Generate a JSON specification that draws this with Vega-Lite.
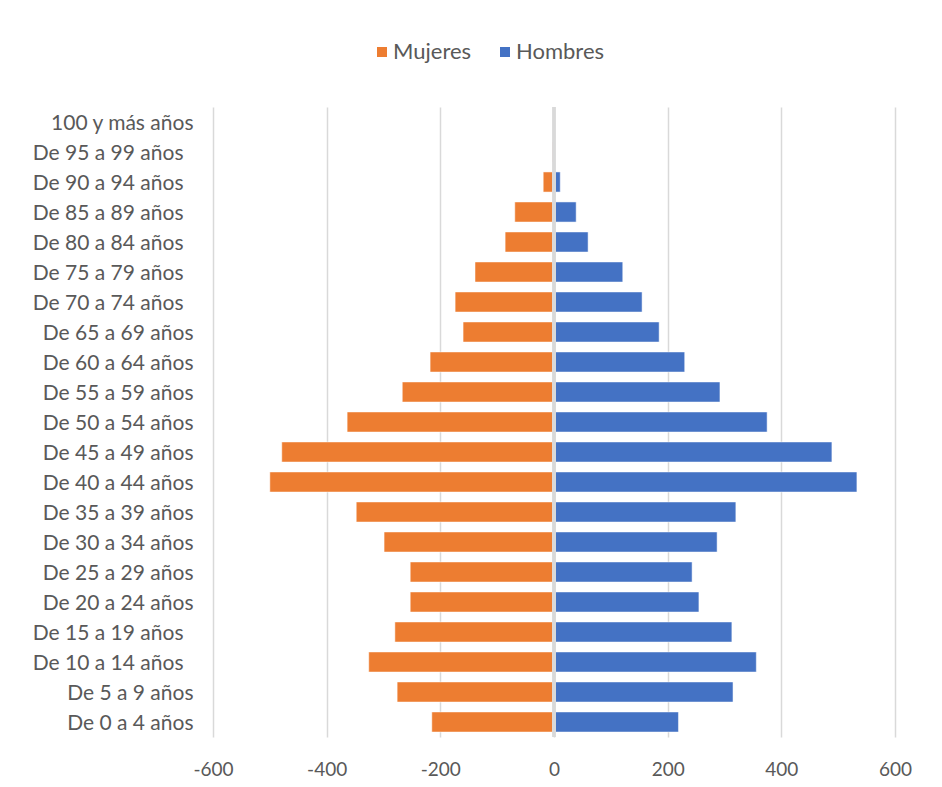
{
  "$schema": "https://vega.github.io/schema/vega-lite/v6.json",
  "width": 682,
  "height": 630,
  "padding": {"left": 0, "top": 41, "right": 47, "bottom": 0},
  "background": "white",
  "config": {
    "font": "Lato",
    "view": {"stroke": null},
    "axis": {"labelFont": "Lato", "labelColor": "#595959", "labelFontSize": 21}
  },
  "data": {
    "values": [
      {"edad": "100 y más años", "sexo": "Mujeres", "valor": 0},
      {"edad": "100 y más años", "sexo": "Hombres", "valor": 0},
      {"edad": "De 95 a 99 años", "sexo": "Mujeres", "valor": -3},
      {"edad": "De 95 a 99 años", "sexo": "Hombres", "valor": 0},
      {"edad": "De 90 a 94 años", "sexo": "Mujeres", "valor": -19},
      {"edad": "De 90 a 94 años", "sexo": "Hombres", "valor": 11},
      {"edad": "De 85 a 89 años", "sexo": "Mujeres", "valor": -69},
      {"edad": "De 85 a 89 años", "sexo": "Hombres", "valor": 39},
      {"edad": "De 80 a 84 años", "sexo": "Mujeres", "valor": -86},
      {"edad": "De 80 a 84 años", "sexo": "Hombres", "valor": 60},
      {"edad": "De 75 a 79 años", "sexo": "Mujeres", "valor": -139},
      {"edad": "De 75 a 79 años", "sexo": "Hombres", "valor": 121},
      {"edad": "De 70 a 74 años", "sexo": "Mujeres", "valor": -174},
      {"edad": "De 70 a 74 años", "sexo": "Hombres", "valor": 155},
      {"edad": "De 65 a 69 años", "sexo": "Mujeres", "valor": -160},
      {"edad": "De 65 a 69 años", "sexo": "Hombres", "valor": 185},
      {"edad": "De 60 a 64 años", "sexo": "Mujeres", "valor": -218},
      {"edad": "De 60 a 64 años", "sexo": "Hombres", "valor": 230},
      {"edad": "De 55 a 59 años", "sexo": "Mujeres", "valor": -267},
      {"edad": "De 55 a 59 años", "sexo": "Hombres", "valor": 292},
      {"edad": "De 50 a 54 años", "sexo": "Mujeres", "valor": -364},
      {"edad": "De 50 a 54 años", "sexo": "Hombres", "valor": 375},
      {"edad": "De 45 a 49 años", "sexo": "Mujeres", "valor": -479},
      {"edad": "De 45 a 49 años", "sexo": "Hombres", "valor": 489},
      {"edad": "De 40 a 44 años", "sexo": "Mujeres", "valor": -500},
      {"edad": "De 40 a 44 años", "sexo": "Hombres", "valor": 533},
      {"edad": "De 35 a 39 años", "sexo": "Mujeres", "valor": -348},
      {"edad": "De 35 a 39 años", "sexo": "Hombres", "valor": 320},
      {"edad": "De 30 a 34 años", "sexo": "Mujeres", "valor": -299},
      {"edad": "De 30 a 34 años", "sexo": "Hombres", "valor": 287},
      {"edad": "De 25 a 29 años", "sexo": "Mujeres", "valor": -253},
      {"edad": "De 25 a 29 años", "sexo": "Hombres", "valor": 243},
      {"edad": "De 20 a 24 años", "sexo": "Mujeres", "valor": -253},
      {"edad": "De 20 a 24 años", "sexo": "Hombres", "valor": 255},
      {"edad": "De 15 a 19 años", "sexo": "Mujeres", "valor": -280},
      {"edad": "De 15 a 19 años", "sexo": "Hombres", "valor": 313},
      {"edad": "De 10 a 14 años", "sexo": "Mujeres", "valor": -326},
      {"edad": "De 10 a 14 años", "sexo": "Hombres", "valor": 356},
      {"edad": "De 5 a 9 años", "sexo": "Mujeres", "valor": -276},
      {"edad": "De 5 a 9 años", "sexo": "Hombres", "valor": 315},
      {"edad": "De 0 a 4 años", "sexo": "Mujeres", "valor": -215},
      {"edad": "De 0 a 4 años", "sexo": "Hombres", "valor": 219}
    ]
  },
  "layer": [
    {
      "mark": {"type": "bar", "stroke": "white", "strokeWidth": 1, "strokeOpacity": 0.5},
      "encoding": {
        "y": {
          "field": "edad",
          "type": "nominal",
          "sort": null,
          "scale": {"paddingInner": 0.33, "paddingOuter": 0.165},
          "axis": {
            "title": null,
            "ticks": false,
            "domain": false,
            "labelPadding": {
              "condition": {
                "test": "indexof(['De 95 a 99 años','De 90 a 94 años','De 85 a 89 años','De 80 a 84 años','De 75 a 79 años','De 70 a 74 años','De 15 a 19 años','De 10 a 14 años'], datum.value) >= 0",
                "value": 30
              },
              "value": 20
            },
            "labelOffset": 1.5,
            "minExtent": 213,
            "maxExtent": 213,
            "labelLimit": 300
          }
        },
        "x": {
          "field": "valor",
          "type": "quantitative",
          "scale": {"domain": [-600, 600], "nice": false},
          "axis": {
            "title": null,
            "values": [-600, -400, -200, 0, 200, 400, 600],
            "labelExpr": "datum.value < 0 ? '-' + abs(datum.value) : '' + datum.value",
            "labelFontSize": 19,
            "labelFlush": false,
            "ticks": false,
            "domain": false,
            "grid": true,
            "gridColor": "#D9D9D9",
            "gridWidth": 1.5,
            "labelPadding": 23
          }
        },
        "color": {
          "field": "sexo",
          "type": "nominal",
          "scale": {"domain": ["Mujeres", "Hombres"], "range": ["#ED7D31", "#4472C4"]},
          "legend": {
            "title": null,
            "orient": "none",
            "direction": "horizontal",
            "legendX": 158,
            "legendY": -66,
            "symbolType": "square",
            "symbolSize": 100,
            "symbolStrokeWidth": 0,
            "labelFont": "Lato",
            "labelFontSize": 22,
            "labelColor": "#595959",
            "labelOffset": 0,
            "columnPadding": 22
          }
        }
      }
    },
    {
      "mark": {"type": "rule", "color": "#D9D9D9", "strokeWidth": 2.5},
      "encoding": {"x": {"datum": 0}}
    }
  ]
}
